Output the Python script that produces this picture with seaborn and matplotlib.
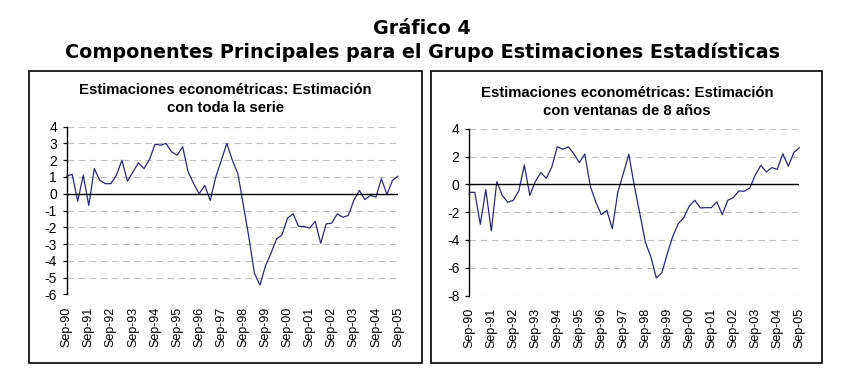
import numpy as np
import pandas as pd
import matplotlib
matplotlib.use('Agg')
import matplotlib.pyplot as plt
import matplotlib.patches as patches
import seaborn as sns

# quarterly series, Sep-90 .. Sep-05 (61 quarters)
toda_serie = [1.05, 1.15, -0.45, 1.1, -0.7, 1.5, 0.8, 0.6, 0.6, 1.1,
              2.0, 0.75, 1.3, 1.85, 1.5, 2.05, 2.95, 2.9, 3.0, 2.5,
              2.3, 2.8, 1.3, 0.6, 0.0, 0.5, -0.4, 1.0, 2.0, 3.0,
              2.0, 1.2, -0.7, -2.6, -4.75, -5.45, -4.3, -3.55, -2.7, -2.45,
              -1.45, -1.2, -1.95, -1.95, -2.05, -1.65, -2.95, -1.8, -1.75, -1.2,
              -1.4, -1.3, -0.4, 0.2, -0.35, -0.1, -0.2, 0.9, -0.05, 0.8,
              1.05]
ventanas_8 = [-0.58, -0.58, -2.88, -0.38, -3.36, 0.19, -0.8, -1.3, -1.15, -0.48,
              1.39, -0.8, 0.2, 0.84, 0.43, 1.25, 2.7, 2.52, 2.7, 2.2,
              1.56, 2.18, -0.14, -1.27, -2.18, -1.87, -3.2, -0.58, 0.77, 2.16,
              -0.1, -2.1, -4.15, -5.2, -6.74, -6.36, -5.0, -3.74, -2.83, -2.4,
              -1.56, -1.15, -1.7, -1.68, -1.68, -1.27, -2.18, -1.15, -0.96, -0.48,
              -0.5, -0.26, 0.67, 1.37, 0.89, 1.2, 1.08, 2.2, 1.3, 2.28,
              2.64]
tick_labels = ['Sep-90', 'Sep-91', 'Sep-92', 'Sep-93', 'Sep-94', 'Sep-95',
               'Sep-96', 'Sep-97', 'Sep-98', 'Sep-99', 'Sep-00', 'Sep-01',
               'Sep-02', 'Sep-03', 'Sep-04', 'Sep-05']
yticks_left = [-6, -5, -4, -3, -2, -1, 0, 1, 2, 3, 4]
yticks_right = [-8, -6, -4, -2, 0, 2, 4]

df = pd.DataFrame({'trimestre': np.arange(len(toda_serie)),
                   'toda': toda_serie, 'ventanas': ventanas_8})

sns.set_style('white')
plt.rcParams['font.family'] = ['Liberation Sans', 'DejaVu Sans']
plt.rcParams['text.color'] = 'black'
plt.rcParams['xtick.color'] = 'black'
plt.rcParams['ytick.color'] = 'black'

W, H = 847, 389
fig = plt.figure(figsize=(W / 100, H / 100), dpi=100)

line_color = '#2a2a70'

def draw_panel(rect, col, yticks, title, title_xy):
    ax = fig.add_axes(rect)
    sns.lineplot(data=df, x='trimestre', y=col, ax=ax, color=line_color,
                 linewidth=0.9, clip_on=False)
    ax.set_xlim(0, len(df) - 1)
    ax.set_ylim(yticks[0], yticks[-1])
    ax.set_yticks(yticks)
    ax.set_yticklabels([str(t) for t in yticks], fontsize=10)
    ax.set_xticks(df['trimestre'][::4])
    ax.set_xticklabels(tick_labels, rotation=90, fontsize=9)
    ax.set_xlabel('')
    ax.set_ylabel('')
    ax.grid(axis='y', color='#c0c0c0', linestyle=(0, (6, 4)), linewidth=0.8)
    ax.grid(axis='x', visible=False)
    ax.axhline(0, color='black', linewidth=1.0, zorder=3)
    for s in ['top', 'right', 'bottom']:
        ax.spines[s].set_visible(False)
    ax.spines['left'].set_color('black')
    ax.spines['left'].set_linewidth(1.0)
    ax.tick_params(axis='y', length=3, width=0.9, color='black', pad=4, left=True)
    ax.tick_params(axis='x', length=0, pad=9)
    fig.text(title_xy[0], title_xy[1], title, ha='center', va='center',
             fontsize=10.7, fontweight='bold', linespacing=1.34)
    return ax

draw_panel([66.7 / W, 1 - 294.3 / H, 331.3 / W, 167.6 / H], 'toda', yticks_left,
           'Estimaciones econométricas: Estimación\ncon toda la serie',
           (225.5 / W, 1 - 99.3 / H))
draw_panel([469.3 / W, 1 - 295.5 / H, 330.0 / W, 166.8 / H], 'ventanas', yticks_right,
           'Estimaciones econométricas: Estimación\ncon ventanas de 8 años',
           (627 / W, 1 - 102.3 / H))

# panel frames
for x0, x1 in [(28.7, 421.7), (431, 822)]:
    fig.patches.append(patches.Rectangle((x0 / W, 1 - 363.3 / H), (x1 - x0) / W,
                                         292.3 / H, transform=fig.transFigure,
                                         fill=False, edgecolor='black', linewidth=1.2))

fig.text(0.4985, 1 - 29 / H, 'Gráfico 4', ha='center', va='center',
         fontsize=13.8, fontweight='bold', family='DejaVu Sans')
fig.text(0.4985, 1 - 52 / H, 'Componentes Principales para el Grupo Estimaciones Estadísticas',
         ha='center', va='center', fontsize=13.8, fontweight='bold', family='DejaVu Sans')

fig.savefig('out.png', dpi=100, facecolor='white')
